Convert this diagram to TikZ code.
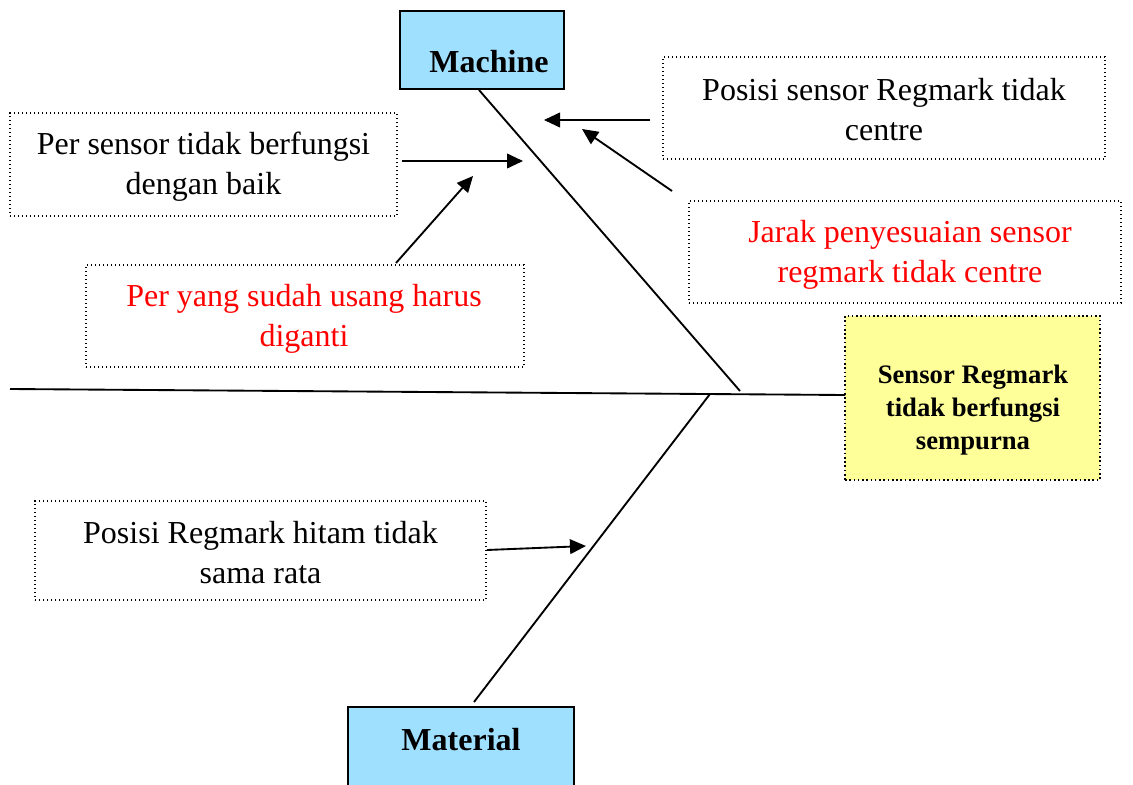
\documentclass[tikz,border=0pt]{standalone}
\usepackage{fontspec}
\setmainfont{Liberation Serif}
\usetikzlibrary{arrows.meta}
\definecolor{boxblue}{RGB}{160,224,255}
\definecolor{boxyellow}{RGB}{255,255,153}
\definecolor{txtred}{RGB}{255,0,0}
\begin{document}
\begin{tikzpicture}[x=0.75pt,y=-0.75pt,
  catbox/.style={draw, line width=1.5pt, fill=boxblue, inner sep=0pt},
  causebox/.style={draw, dotted, line width=1pt, inner sep=0pt},
  effectbox/.style={draw, dotted, line width=1.2pt, fill=boxyellow, inner sep=0pt},
  causetext/.style={align=center, font=\fontsize{24}{30}\selectfont},
  cattext/.style={font=\bfseries\fontsize{24}{30}\selectfont},
  effecttext/.style={align=center, font=\bfseries\fontsize{20}{25}\selectfont},
  bone/.style={line width=1.4pt},
  causearrow/.style={line width=1.4pt, -{Triangle[length=12pt,width=11pt]}}]
\useasboundingbox (0,0) rectangle (1133,785);
% boxes
\node[catbox, minimum width=123pt, minimum height=58.5pt] (machine) at (482,50) {};
\node[cattext] (machinelbl) at (489,62) {Machine};
\node[catbox, minimum width=169.5pt, minimum height=70pt] (material) at (461,754) {};
\node[cattext] (materiallbl) at (461,740) {Material};
\node[effectbox, minimum width=191.25pt, minimum height=123pt] (effect) at (972.5,398) {};
\node[effecttext] (effectlbl) at (973,410) {Sensor Regmark\\tidak berfungsi\\sempurna};
\node[causebox, minimum width=290.25pt, minimum height=77.25pt] (c1) at (203.5,164.5) {};
\node[causetext] (c1lbl) at (203.5,167) {Per sensor tidak berfungsi\\dengan baik};
\node[causebox, minimum width=331.5pt, minimum height=76.5pt] (c2) at (884,108) {};
\node[causetext] (c2lbl) at (884,109.5) {Posisi sensor Regmark tidak\\centre};
\node[causebox, minimum width=324pt, minimum height=76.5pt] (c3) at (905,252) {};
\node[causetext, text=txtred] (c3lbl) at (910,254.5) {Jarak penyesuaian sensor\\regmark tidak centre};
\node[causebox, minimum width=328.5pt, minimum height=76.5pt] (c4) at (305,316) {};
\node[causetext, text=txtred] (c4lbl) at (304,319) {Per yang sudah usang harus\\diganti};
\node[causebox, minimum width=338.25pt, minimum height=74.25pt] (c5) at (260.5,550.5) {};
\node[causetext] (c5lbl) at (260.5,553) {Posisi Regmark hitam tidak\\sama rata};
% bones
\coordinate (spineL) at (10,389);
\coordinate (spineR) at (845,395);
\coordinate (mEnd) at (740,391);
\coordinate (matStart) at (710,394);
\coordinate (matEnd) at (474,702);
\draw[bone] (spineL) -- (spineR);
\draw[bone] ([xshift=-2.25pt]machine.south) -- (mEnd);
\draw[bone] (matStart) -- (matEnd);
% arrows
\coordinate (a1s) at (402,161); \coordinate (a1e) at (523,161);
\coordinate (a2s) at (650,120); \coordinate (a2e) at (544,120);
\coordinate (a3s) at (672,191); \coordinate (a3e) at (582,129);
\coordinate (a4s) at (396,263); \coordinate (a4e) at (473,176);
\coordinate (a5s) at (487,550); \coordinate (a5e) at (586,546);
\draw[causearrow] (a1s) -- (a1e);
\draw[causearrow] (a2s) -- (a2e);
\draw[causearrow] (a3s) -- (a3e);
\draw[causearrow] (a4s) -- (a4e);
\draw[causearrow] (a5s) -- (a5e);
\end{tikzpicture}
\end{document}
